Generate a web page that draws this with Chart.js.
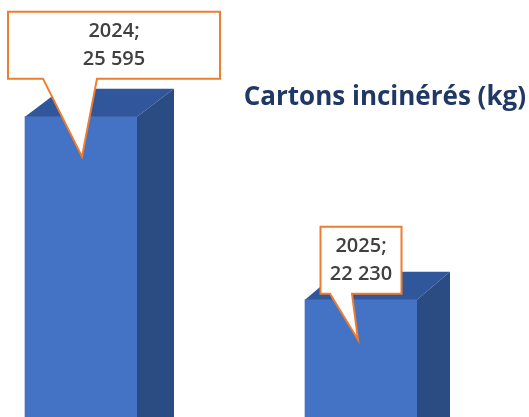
<!DOCTYPE html>
<html>
<head>
<meta charset="utf-8">
<script src="https://cdn.jsdelivr.net/npm/chart.js@4"></script>
<style>
  html, body { margin: 0; padding: 0; background: #fff; overflow: hidden; }
  #wrap { position: relative; width: 529px; height: 421px; }
</style>
</head>
<body>
<div id="wrap"><canvas id="chart"></canvas></div>
<script>
// --- données ---
const categories = ['2024', '2025'];
const values = [25595, 22230];
const chartTitle = 'Cartons incinérés (kg)';

// --- mise en page des bulles (étiquettes) ---
const calloutLayout = [
    { tipDx: 1, shift: 32, width: 212, height: 67, gap: 78, tailFrom: -39, tailTo: 15 },
    { tipDx: -3, shift: 3, width: 81, height: 67, gap: 46, tailFrom: -28, tailTo: -6 }
];

const FRONT = '#4472C4';
const TOP = '#30569B';
const SIDE = '#2B4B83';

function fmt(v) {
    return String(v).replace(/\B(?=(\d{3})+(?!\d))/g, ' ');
}

// faces 3D + bulles + titre
const bar3d = {
    id: 'bar3d',
    afterDatasetsDraw(chart) {
        const ctx = chart.ctx;
        const meta = chart.getDatasetMeta(0);
        const area = chart.chartArea;

        meta.data.forEach(function(bar) {
            const w = bar.width;
            const l = bar.x - w / 2, r = bar.x + w / 2;
            const dx = 37 - (bar.x - area.left) / 70;
            const dy = 28;
            ctx.save();
            // dessus
            ctx.fillStyle = TOP;
            ctx.beginPath();
            ctx.moveTo(l, bar.y);
            ctx.lineTo(l + dx, bar.y - dy);
            ctx.lineTo(r + dx, bar.y - dy);
            ctx.lineTo(r, bar.y);
            ctx.closePath();
            ctx.fill();
            // côté
            ctx.fillStyle = SIDE;
            ctx.beginPath();
            ctx.moveTo(r, bar.y);
            ctx.lineTo(r + dx, bar.y - dy);
            ctx.lineTo(r + dx, bar.base - dy);
            ctx.lineTo(r, bar.base);
            ctx.closePath();
            ctx.fill();
            ctx.restore();
        });

        meta.data.forEach(function(bar, i) {
            const c = calloutLayout[i];
            const tipX = bar.x + c.tipDx, tipY = bar.y + 40;
            const bottom = tipY - c.gap, top = bottom - c.height;
            const left = tipX + c.shift - c.width / 2, right = left + c.width;
            ctx.save();
            ctx.beginPath();
            ctx.moveTo(left, top);
            ctx.lineTo(right, top);
            ctx.lineTo(right, bottom);
            ctx.lineTo(tipX + c.tailTo, bottom);
            ctx.lineTo(tipX, tipY);
            ctx.lineTo(tipX + c.tailFrom, bottom);
            ctx.lineTo(left, bottom);
            ctx.closePath();
            ctx.fillStyle = '#fff';
            ctx.fill();
            ctx.lineWidth = 2;
            ctx.strokeStyle = '#ED7D31';
            ctx.lineJoin = 'miter';
            ctx.stroke();

            ctx.fillStyle = '#404040';
            ctx.font = '600 20px "Open Sans"';
            ctx.textAlign = 'center';
            ctx.textBaseline = 'middle';
            const cx = (left + right) / 2, cy = (top + bottom) / 2;
            ctx.fillText(categories[i] + ';', cx, cy - 14);
            ctx.fillText(fmt(values[i]), cx, cy + 14);
            ctx.restore();
        });

        ctx.save();
        ctx.fillStyle = '#1F3864';
        ctx.font = 'bold 26px "Open Sans"';
        ctx.textAlign = 'right';
        ctx.textBaseline = 'alphabetic';
        ctx.fillText(chartTitle, 526, 105);
        ctx.restore();
    }
};

new Chart(document.getElementById('chart'), {
    type: 'bar',
    data: {
        labels: categories,
        datasets: [{
            data: values,
            backgroundColor: FRONT,
            borderWidth: 0,
            barThickness: 112,
            clip: false
        }]
    },
    options: {
        responsive: true,
        maintainAspectRatio: false,
        animation: false,
        layout: { padding: { left: 81, right: 168, top: 13, bottom: 0 } },
        plugins: { legend: { display: false }, tooltip: { enabled: false }, title: { display: false } },
        scales: {
            x: { display: false, offset: false },
            y: { display: false, min: 20000, max: 27500 }
        }
    },
    plugins: [bar3d]
});
</script>
</body>
</html>
